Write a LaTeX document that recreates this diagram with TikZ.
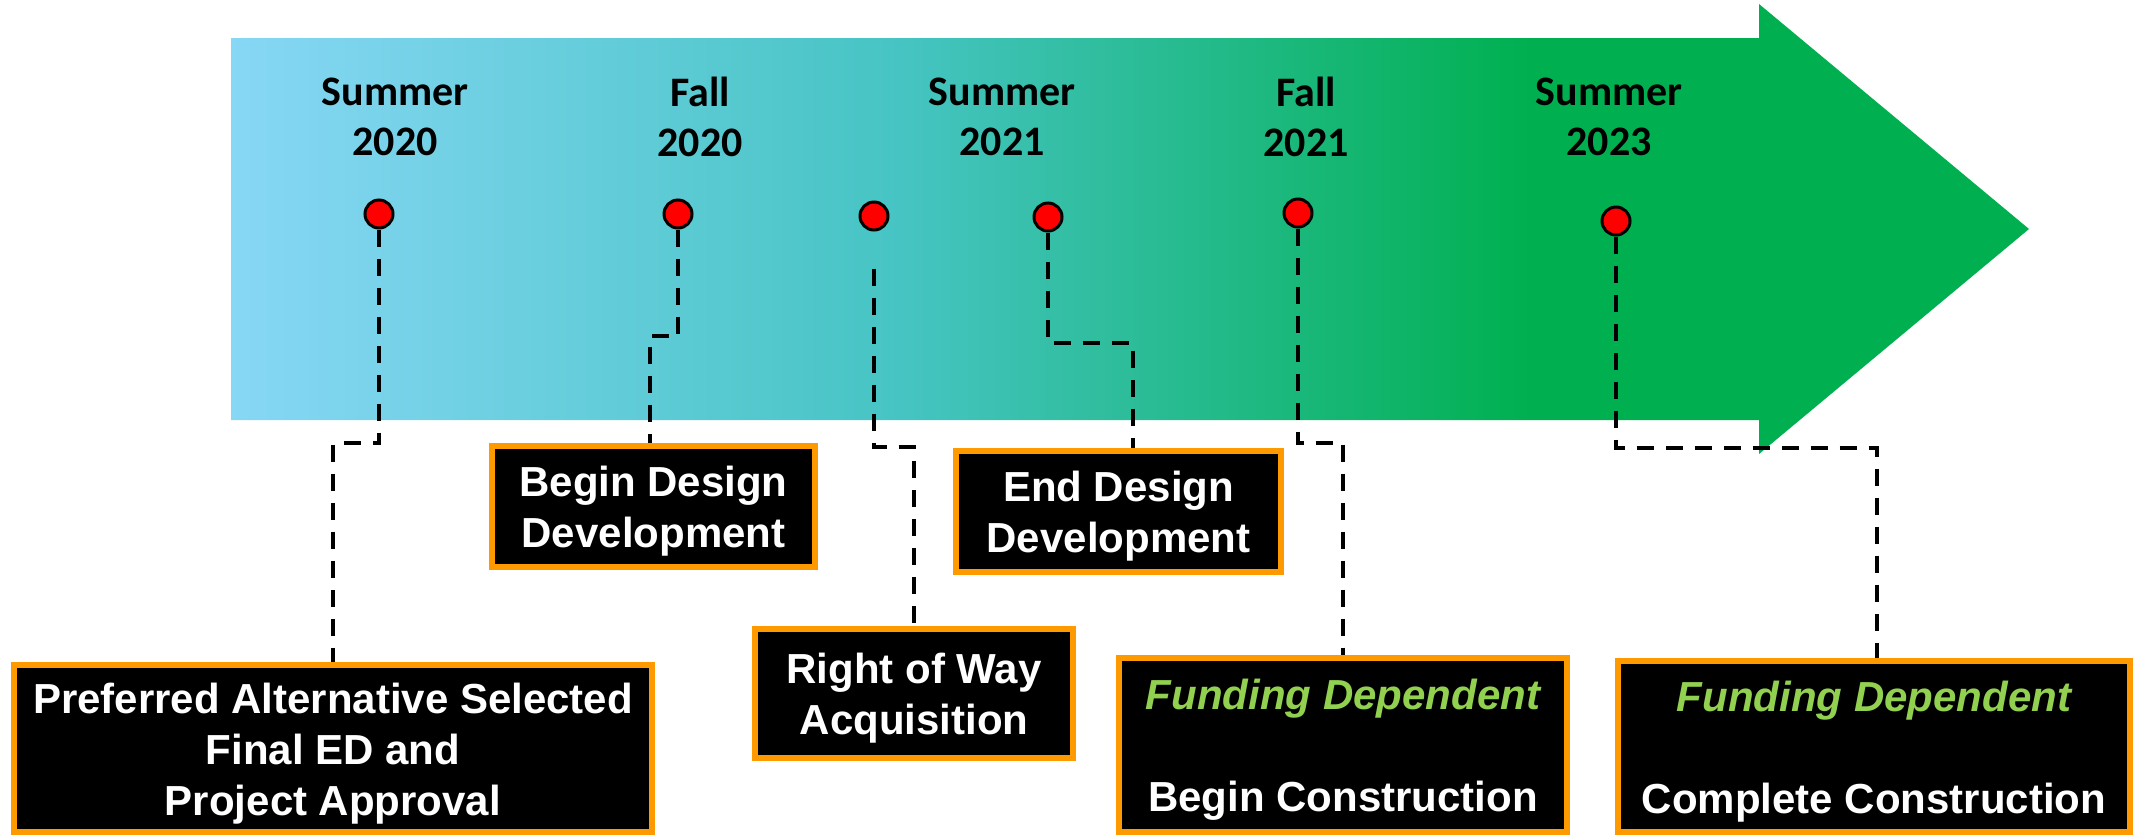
\documentclass[tikz,border=0pt]{standalone}
\usepackage{fontspec}
\setmainfont{Liberation Sans}
\newfontfamily\labfont{Carlito}
\usetikzlibrary{calc}
\definecolor{cA}{RGB}{135,215,245}
\definecolor{cB}{RGB}{70,196,195}
\definecolor{cC}{RGB}{0,176,80}
\definecolor{boxorange}{RGB}{255,153,0}
\definecolor{fundgreen}{RGB}{146,208,80}
\pgfdeclarehorizontalshading{arrowshade}{100bp}{color(0bp)=(cA); color(25bp)=(cA); color(43.6bp)=(cB); color(61.1bp)=(cC); color(100bp)=(cC)}
\newcommand{\toppad}{\rule{0pt}{20pt}}
\begin{document}
\begin{tikzpicture}[x=0.5pt,y=-0.5pt,
  dot/.style={circle,fill=red,draw=black,line width=1.5pt,minimum size=14pt,inner sep=0pt},
  lab/.style={font=\labfont\bfseries\fontsize{21}{25}\selectfont,align=center,inner sep=0pt,text=black},
  mbox/.style={draw=boxorange,line width=3pt,fill=black,text=white,inner sep=0pt,align=center,font=\bfseries\fontsize{21}{25.5}\selectfont},
  conn/.style={draw=black,line width=2pt,dash pattern=on 8.5pt off 6pt}]
\useasboundingbox (0,0) rectangle (2136,836);
% arrow
\shade[shading=arrowshade] (231,38) -- (1759,38) -- (1759,4) -- (2029,229) -- (1759,454) -- (1759,420) -- (231,420) -- cycle;
% labels
\node[lab] (l1) at (395,117) {Summer\\2020};
\node[lab] (l2) at (700,117) {Fall\\2020};
\node[lab] (l3) at (1002,117) {Summer\\2021};
\node[lab] (l4) at (1306,117) {Fall\\2021};
\node[lab] (l5) at (1609,117) {Summer\\2023};
% dots
\node[dot] (d1) at (379,214) {};
\node[dot] (d2) at (678,214) {};
\node[dot] (d3) at (874,216) {};
\node[dot] (d4) at (1048,217) {};
\node[dot] (d5) at (1298,213) {};
\node[dot] (d6) at (1616,221) {};
% boxes
\node[mbox,minimum width=319pt,minimum height=83.5pt] (b1) at (333,748.5) {\toppad Preferred Alternative Selected\\Final ED and\\Project Approval};
\node[mbox,minimum width=161.5pt,minimum height=60.5pt] (b2) at (653.5,506.5) {\toppad Begin Design\\Development};
\node[mbox,minimum width=159pt,minimum height=64.5pt] (b3) at (914,693.5) {\toppad Right of Way\\Acquisition};
\node[mbox,minimum width=162.5pt,minimum height=60.5pt] (b4) at (1118.5,511.5) {\toppad End Design\\Development};
\node[mbox,minimum width=224pt,minimum height=87pt] (b5) at (1343,745) {\toppad{\color{fundgreen}\itshape Funding Dependent}\\[25.5pt]Begin Construction};
\node[mbox,minimum width=256pt,minimum height=85.5pt] (b6) at (1874,746.5) {\toppad{\color{fundgreen}\itshape Funding Dependent}\\[25.5pt]Complete Construction};
% bends
\coordinate (k1) at (333,443);
\coordinate (k2) at (650,336);
\coordinate (s3) at ($(d3.south)+(0,37)$);
\coordinate (k3) at (914,447);
\coordinate (k4) at (1133,343);
\coordinate (k5) at (1343,443);
\coordinate (k6) at (1877,448);
% connectors
\draw[conn] (d1.south) |- (k1) -- (b1.north);
\draw[conn] (d2.south) |- (k2) -- (k2 |- b2.north);
\draw[conn] (s3) |- (k3) -- (b3.north);
\draw[conn] (d4.south) |- (k4) -- (k4 |- b4.north);
\draw[conn] (d5.south) |- (k5) -- (b5.north);
\draw[conn] (d6.south) |- (k6) -- (k6 |- b6.north);
\end{tikzpicture}
\end{document}
